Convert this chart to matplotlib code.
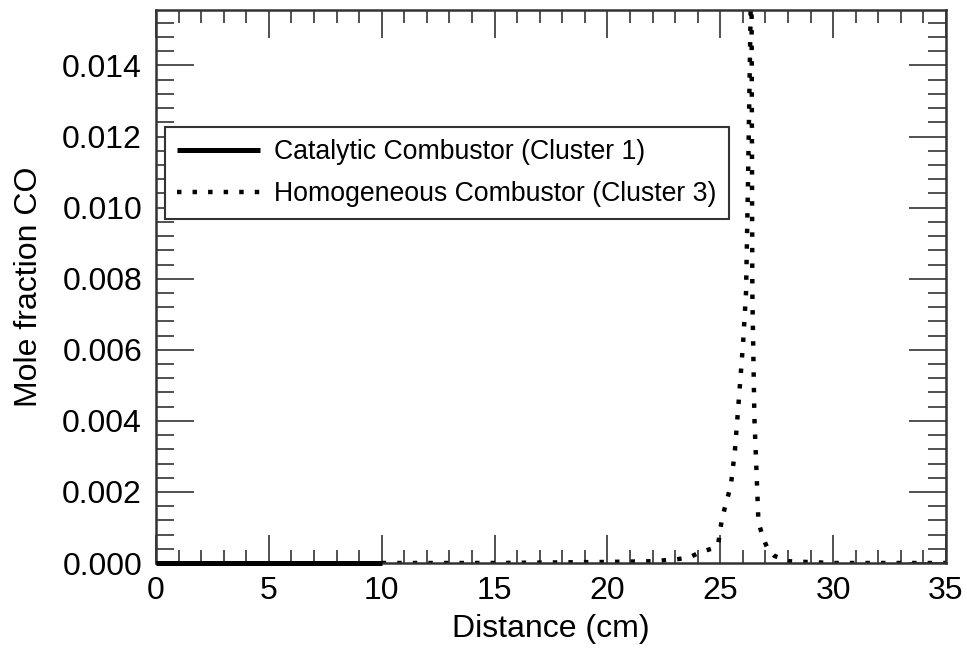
import numpy as np
import matplotlib
matplotlib.use("Agg")
import matplotlib.pyplot as plt
from matplotlib.ticker import MultipleLocator, FormatStrFormatter

plt.rcParams['font.family'] = ['Liberation Sans', 'DejaVu Sans']

# catalytic combustor (cluster 1), mole fraction CO vs distance
cat_x = [0.0, 2.5, 5.0, 7.5, 10.0]
cat_y = [0.0, 0.0, 0.0, 0.0, 0.0]

# homogeneous combustor (cluster 3)
hom_x = [10.0, 15.0, 20.0, 22.0, 23.0, 23.6, 24.1, 24.6, 24.9, 25.07, 25.47,
         25.65, 25.83, 26.01, 26.14, 26.23, 26.38, 26.42, 26.51, 26.60, 26.69,
         26.91, 27.1, 27.4, 28.0, 30.0, 35.0]
hom_y = [0.0, 0.0, 0.00003, 0.00005, 0.0001, 0.00015, 0.0003, 0.0004, 0.0005,
         0.00124, 0.00219, 0.00318, 0.00467, 0.00619, 0.00762, 0.0108, 0.017,
         0.0076, 0.0041, 0.00264, 0.00115, 0.00068, 0.0004, 0.0002, 0.00005,
         0.0, 0.0]

labels = ["Catalytic Combustor (Cluster 1)", "Homogeneous Combustor (Cluster 3)"]

fig = plt.figure(figsize=(9.67, 6.49), dpi=100)
ax = fig.add_axes([0.1613, 0.1325, 0.817, 0.852])

ax.plot(cat_x, cat_y, color='black', lw=3.6, solid_capstyle='butt',
        clip_on=False, zorder=3, label=labels[0])
ax.plot(hom_x, hom_y, color='black', lw=3.2, linestyle=(0, (1, 2.5)),
        dash_capstyle='butt', label=labels[1])

ax.set_xlim(0, 35)
ax.set_ylim(0, 0.01556)
ax.xaxis.set_major_locator(MultipleLocator(5))
ax.xaxis.set_minor_locator(MultipleLocator(1))
ax.yaxis.set_major_locator(MultipleLocator(0.002))
ax.yaxis.set_minor_locator(MultipleLocator(0.0004))
ax.yaxis.set_major_formatter(FormatStrFormatter('%.3f'))

ax.tick_params(axis='both', which='both', direction='in', top=True, right=True,
               labelsize=23, color='#333333')
ax.tick_params(axis='x', which='major', length=20, width=1.2, pad=9)
ax.tick_params(axis='x', which='minor', length=9.5, width=1.2)
ax.tick_params(axis='y', which='major', length=27, width=1.2, pad=10)
ax.tick_params(axis='y', which='minor', length=13, width=1.2)
for s in ax.spines.values():
    s.set_linewidth(1.8)
    s.set_color('#333333')

ax.set_xlabel("Distance (cm)", fontsize=23, labelpad=6)
ax.set_ylabel("Mole fraction CO", fontsize=23, labelpad=13)

leg = ax.legend(loc='upper left', bbox_to_anchor=(0.0114, 0.788), borderaxespad=0,
                fontsize=19.2, frameon=True, fancybox=False, edgecolor='#333333',
                handlelength=3.1, handletextpad=0.55, borderpad=0.45,
                labelspacing=0.6, framealpha=1)
leg.get_frame().set_linewidth(1.5)

fig.savefig("out.png", dpi=100)
